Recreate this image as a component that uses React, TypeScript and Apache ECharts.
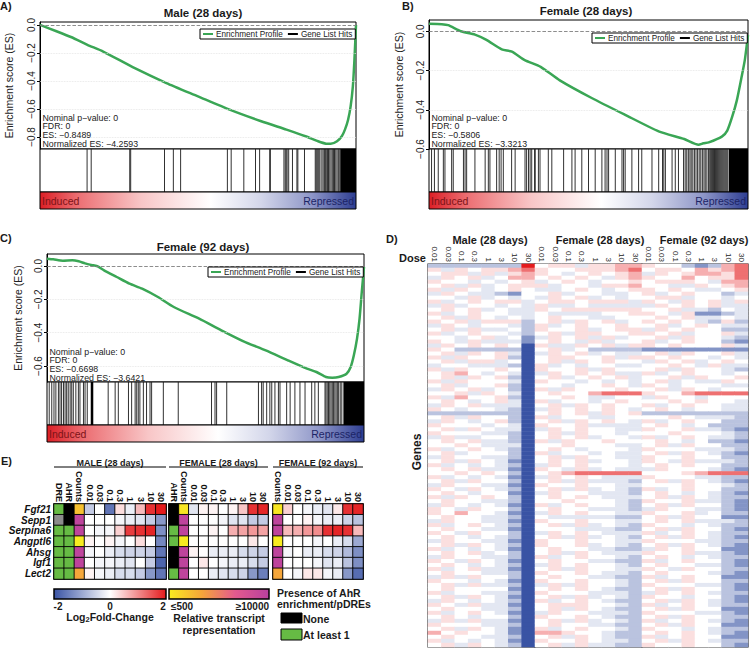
import React, { useEffect, useRef } from "react";
import * as echarts from "echarts";

const FONT = "Liberation Sans, Arial, sans-serif";
const GREEN = "#3aa655";

// ---------- GSEA data (rank fraction, enrichment score) ----------
const esMale28 = [[0,0],[0.05,-0.043],[0.1,-0.088],[0.15,-0.142],[0.2,-0.19],[0.3,-0.309],[0.4,-0.415],[0.5,-0.51],[0.6,-0.605],[0.7,-0.688],[0.78,-0.748],[0.84,-0.795],[0.88,-0.831],[0.905,-0.848],[0.92,-0.849],[0.94,-0.831],[0.955,-0.795],[0.965,-0.748],[0.975,-0.677],[0.983,-0.582],[0.99,-0.44],[0.995,-0.25],[1,0]];
const esFemale28 = [[0,0.038],[0.04,0.036],[0.06,0.031],[0.1,0],[0.144,-0.017],[0.18,-0.044],[0.228,-0.092],[0.26,-0.104],[0.3,-0.147],[0.35,-0.181],[0.41,-0.25],[0.51,-0.34],[0.615,-0.426],[0.72,-0.51],[0.8,-0.549],[0.845,-0.578],[0.86,-0.571],[0.877,-0.566],[0.918,-0.537],[0.935,-0.506],[0.95,-0.438],[0.965,-0.352],[0.98,-0.232],[0.99,-0.147],[1,-0.02]];
const esFemale92 = [[0,0.044],[0.02,0.04],[0.05,0.032],[0.08,0.034],[0.1,0.028],[0.12,0.016],[0.146,0.004],[0.16,-0.002],[0.18,-0.026],[0.22,-0.066],[0.26,-0.106],[0.3,-0.136],[0.35,-0.186],[0.4,-0.246],[0.48,-0.316],[0.55,-0.386],[0.62,-0.452],[0.69,-0.506],[0.76,-0.566],[0.82,-0.616],[0.85,-0.636],[0.88,-0.666],[0.9,-0.67],[0.92,-0.666],[0.945,-0.646],[0.958,-0.606],[0.968,-0.536],[0.978,-0.436],[0.986,-0.316],[0.993,-0.156],[1,-0.006]];

// gene list hits (rank position out of 1000) and solid runs of hits
const hitsMale28 = [149,162,284,287,394,422,445,593,605,645,682,695,727,729,772,776,779,782,787,799,813,816,837,871,874,877,880,883,886,892,896,900,903,906,910,913,917,921,925,929,932,936,940,944,947];
const hitBlocksMale28 = [[950,1000]];
const hitsFemale28 = [8,17,29,45,50,71,76,108,113,118,144,176,186,191,212,220,226,233,259,270,301,306,312,317,322,331,333,343,348,374,385,422,448,458,479,500,521,542,552,558,563,584,605,610,615,636,657,667,699,720,732,736,741,762,772,782,798,803,808,813,818,822,827,832,837,842,847,852,857,862,866,871,876,880,883,886,889,892,895,898,901,904,907,910,913,916,919,922,925,928,931,934,937];
const hitBlocksFemale28 = [[940,1000]];
const hitsFemale92 = [7,15,22,28,36,41,46,52,57,62,67,73,78,83,91,99,104,115,120,127,193,215,225,257,267,278,283,288,293,304,314,325,330,367,414,519,530,535,567,667,677,682,693,703,709,719,730,735,756,767,782,798,814,835,845,856,877,880,884,888,892,896,900,904,908,912,916,920,925,930];
const hitBlocksFemale92 = [[138,146],[935,1000]];

const statsMale28 = ["Nominal p\u2212value: 0", "FDR: 0", "ES: \u22120.8489", "Normalized ES: \u22124.2593"];
const statsFemale28 = ["Nominal p\u2212value: 0", "FDR: 0", "ES: \u22120.5806", "Normalized ES: \u22123.3213"];
const statsFemale92 = ["Nominal p\u2212value: 0", "FDR: 0", "ES: \u22120.6698", "Normalized ES: \u22123.6421"];

// ---------- Panel D heatmap (each char is a level 0..8, see heatLevels) ----------
const doses = ["0.01", "0.03", "0.1", "0.3", "1", "3", "10", "30"];
const heatGroups = ["Male (28 days)", "Female (28 days)", "Female (92 days)"];
const heatLevels = [-2, -1.25, -0.7, -0.28, 0, 0.28, 0.7, 1.25, 2];
const heatRows = [
  "22222228 45535566 54421267",
  "53545567 54455567 45546567",
  "45535356 54345456 35456657",
  "35453466 45454356 54464557",
  "54434345 34543445 45554366",
  "45353455 53443556 44335456",
  "53543454 33454345 54543345",
  "35433214 45344334 53454423",
  "44353434 35453434 45534434",
  "53454553 45545553 54354535",
  "35344343 53343333 35454533",
  "45453433 54555555 44533243",
  "53454433 43333445 54351123",
  "45354343 45443344 45453343",
  "54535552 45354534 54543252",
  "35434432 53454454 45345433",
  "45353342 54453455 35454422",
  "53454432 45355445 54534453",
  "44345341 35453534 45354432",
  "54353331 45435344 53454421",
  "35454540 53354535 54544453",
  "54222220 45342222 11111111",
  "45354530 35453433 45354453",
  "53544520 45544535 54544343",
  "45355340 45354544 35453454",
  "34433320 53434433 44543533",
  "53544540 54453544 45354432",
  "45643430 35454533 53454434",
  "45354520 45345453 44535445",
  "53544430 54434343 45343354",
  "45344520 44344543 54344433",
  "35453420 53544454 45354344",
  "44535430 45446777 54467777",
  "53644520 44543344 35443444",
  "45434530 53443454 44545443",
  "35453330 45354544 53454433",
  "54344320 35454543 45434433",
  "22222220 45453545 22222222",
  "45354420 53443344 44543332",
  "35434520 45354543 53454422",
  "54443430 54453333 45434222",
  "45354330 35454433 54453321",
  "54443320 45354434 44544432",
  "35334420 45453443 53454332",
  "45453320 53544544 45434221",
  "44543330 44544433 45354422",
  "53454320 45434443 54443332",
  "45344420 53443433 45354321",
  "35443320 45354433 54454422",
  "45354310 45453443 54353332",
  "53434320 35454443 45454422",
  "45453310 54353433 35444321",
  "44545420 45677777 44456777",
  "53434310 35454333 54443322",
  "45354420 45353332 45354321",
  "35443310 54454433 44454432",
  "54354320 45353432 53454422",
  "45434410 35443332 45434321",
  "53545420 45454333 45354322",
  "45443320 44544432 54453321",
  "35434310 53454432 45354421",
  "54354420 45443332 35443321",
  "54644310 35454433 54453422",
  "45443320 43333322 45354411",
  "35443310 54454433 45453332",
  "53454320 45353432 54434322",
  "45443310 44433322 45354421",
  "54354420 35454333 53454322",
  "45434320 45353432 45354321",
  "35443310 54454433 54443322",
  "45354320 54453432 45354321",
  "53434310 45443322 35454411",
  "45453420 45354333 54453321",
  "35443320 53454432 45434322",
  "54354310 45443322 53454421",
  "45434320 35454432 45443321",
  "53453310 45354433 54354422",
  "45443320 54454332 45444321",
  "35354420 45443322 53454411",
  "54434310 54454432 45354422",
  "45353320 35354432 54443321",
  "45444410 45454322 45354421",
  "53443320 54443332 35454322",
  "45354310 45353432 54434421",
  "35434320 53454322 45354321",
  "54353310 45554432 53454322",
  "45443320 45354322 45354411",
  "53454310 35443332 54443321",
  "45434420 54454322 45354422",
  "35353310 45353432 53454321",
  "54443320 45443322 45354411",
  "45354310 53454432 54434322",
  "64544310 66544322 45454321",
  "45443320 45354322 53454411",
  "53434310 54454332 45354322",
  "45354320 45353322 54454421",
];

// ---------- Panel E ----------
const genesE = ["Fgf21", "Sepp1", "Serpina6", "Angptl6", "Ahsg", "Igf1", "Lect2"];
const fcMale28 = [
  [-0.6, 0, -1.6, 0.3, -0.2, 0.6, 1.8, 2.0],
  [0, 0, 0, -0.1, -0.2, -0.3, -0.6, -1.2],
  [0, -0.1, -0.1, 0.4, 1.7, 1.8, 1.9, -1.3],
  [0.1, 0, 0.1, -0.1, 0, 0.3, 0, -1.4],
  [-0.1, 0, -0.2, -0.4, -0.5, -0.5, -0.6, -1.6],
  [0, -0.1, -0.1, -0.2, -0.3, 0, -0.6, -1.8],
  [0.1, -0.1, -0.2, -0.4, -0.4, -0.6, -1.2, -1.6],
];
const fcFemale28 = [
  [-0.3, 0.1, 0.1, 0, 0.1, 0.5, 1.8, 1.9],
  [0, 0, 0, -0.1, -0.3, -0.3, -0.6, -0.6],
  [0, 0, 0.1, 0, 0.7, 0.8, 0.9, 0.8],
  [0, 0, 0, 0, 0, 0, 0.2, 0],
  [0.1, 0, -0.2, -0.2, -0.2, -0.4, -0.5, -0.6],
  [0, 0.2, 0, -0.1, -0.2, -0.2, -0.4, -0.6],
  [0, 0, -0.2, -0.3, -0.4, -0.5, -1.2, -1.5],
];
const fcFemale92 = [
  [0.4, 0, -0.1, -0.2, -0.3, 0.2, 1.8, 1.9],
  [0, 0, 0.1, -0.1, -0.2, -0.2, -0.5, -0.7],
  [0.6, 0.7, 0.9, 1.0, 1.8, 1.9, 1.8, 0.6],
  [0, 0, 0, -0.1, 0, -0.2, -0.4, -1.0],
  [-0.1, 0, -0.2, -0.2, -0.4, -0.5, -0.8, -1.3],
  [0, 0, 0, -0.1, -0.3, -0.2, -0.7, -1.3],
  [0, -0.1, 0.2, 0.2, -0.1, -0.2, -1.2, -1.7],
];
const countsMale28 = [0.2, 0.95, 0.95, 0, 0.95, 0.95, 0.33];
const countsFemale28 = [0.03, 0.95, 0.95, 0, 0.95, 0.95, 0.95];
const countsFemale92 = [0.03, 0.95, 0.95, 0, 0.95, 0.95, 0.33];
// 0 = none, 1 = at least 1, 2 = not available
const dreMale28 = [1, 2, 1, 1, 1, 1, 1];
const ahrMale28 = [0, 0, 1, 1, 1, 1, 1];
const ahrFemale28 = [0, 0, 1, 1, 0, 0, 1];

const FC_COLORS = ["#3953a4", "#ffffff", "#e41a1c"];
const COUNT_COLORS = ["#f8ec20", "#f5a53a", "#e35a8e", "#b8409e"];

function txt(text: string, x: number, y: number, o: any = {}) {
  const { rotation, ...style } = o;
  return {
    type: "text", x, y, rotation: rotation || 0, silent: true, z: 20,
    style: {
      text, fill: "#1a1a1a", fontFamily: FONT, fontSize: 10,
      align: "left", verticalAlign: "middle", ...style,
    },
  };
}

function buildOption() {
  const grid: any[] = [];
  const xAxis: any[] = [];
  const yAxis: any[] = [];
  const series: any[] = [];
  const graphic: any[] = [];
  const legend: any[] = [];

  const panels = [
    { letter: "A)", lx: 0, ly: 6, title: "Male (28 days)", tx: 203, ty: 13, es: esMale28, hits: hitsMale28, blocks: hitBlocksMale28, stats: statsMale28,
      left: 40, top: 22, width: 316, esH: 127, min: -0.886, max: 0.021, ticks: [0, -0.2, -0.4, -0.6, -0.8], nameGap: 26, legL: 200, legT: 29, statsY: 114 },
    { letter: "B)", lx: 402, ly: 6, title: "Female (28 days)", tx: 586, ty: 11, es: esFemale28, hits: hitsFemale28, blocks: hitBlocksFemale28, stats: statsFemale28,
      left: 429, top: 20, width: 319, esH: 129, min: -0.6, max: 0.0575, ticks: [0, -0.2, -0.4, -0.6], nameGap: 25, legL: 592, legT: 33, statsY: 114 },
    { letter: "C)", lx: 0, ly: 238, title: "Female (92 days)", tx: 203, ty: 247, es: esFemale92, hits: hitsFemale92, blocks: hitBlocksFemale92, stats: statsFemale92,
      left: 47, top: 254, width: 317, esH: 128, min: -0.696, max: 0.072, ticks: [0, -0.2, -0.4, -0.6], nameGap: 24, legL: 208, legT: 267, statsY: 348 },
  ];
  const hitsH = 43;
  const gradH = 17;

  panels.forEach((p) => {
    const gES = grid.length;
    grid.push({ left: p.left, top: p.top, width: p.width, height: p.esH, show: true, borderColor: "#000", borderWidth: 1, backgroundColor: "#fff" });
    xAxis.push({ type: "value", gridIndex: gES, min: 0, max: 1, show: false });
    yAxis.push({
      type: "value", gridIndex: gES, min: p.min, max: p.max,
      axisLine: { show: true, lineStyle: { color: "#000", width: 1 } },
      axisTick: { show: true, length: 3, customValues: p.ticks, lineStyle: { color: "#000" } },
      axisLabel: { rotate: 90, fontSize: 10, margin: 4, color: "#222", fontFamily: FONT, customValues: p.ticks,
        formatter: (v: number) => (Math.abs(v) < 1e-9 ? "0.0" : "\u2212" + Math.abs(v).toFixed(1)) },
      splitLine: { show: false },
      name: "Enrichment score (ES)", nameLocation: "middle", nameGap: p.nameGap, nameRotate: 90,
      nameTextStyle: { fontSize: 10.5, color: "#222", fontFamily: FONT },
    });
    const gridVals = [-0.2, -0.4, -0.6, -0.8].filter((v) => v > p.min + 0.001);
    series.push({
      type: "line", name: "Enrichment Profile", xAxisIndex: gES, yAxisIndex: gES, data: p.es,
      showSymbol: false, symbol: "none", smooth: 0.2, color: GREEN,
      lineStyle: { width: 2.5, color: GREEN }, itemStyle: { color: GREEN }, z: 3,
      markLine: {
        silent: true, symbol: ["none", "none"], label: { show: false }, animation: false,
        data: [
          ...gridVals.map((v) => ({ yAxis: v, lineStyle: { type: "dotted", color: "#e2e2e2", width: 0.8 } })),
          { yAxis: 0, lineStyle: { type: "dashed", color: "#808080", width: 0.9 } },
        ],
      },
    });

    const gH = grid.length;
    grid.push({ left: p.left, top: p.top + p.esH, width: p.width, height: hitsH, show: true, borderColor: "#000", borderWidth: 1, backgroundColor: "#fff" });
    xAxis.push({ type: "value", gridIndex: gH, min: 0, max: 1000, show: false });
    yAxis.push({ type: "value", gridIndex: gH, min: 0, max: 1, show: false });
    series.push({
      type: "custom", name: "Gene List Hits", xAxisIndex: gH, yAxisIndex: gH, itemStyle: { color: "#000" },
      data: p.hits.map((h) => [h, 0.5]),
      renderItem: (_params: any, api: any) => {
        const x = api.value(0);
        const a = api.coord([x, 0]);
        const b = api.coord([x, 1]);
        return { type: "line", shape: { x1: a[0], y1: a[1], x2: b[0], y2: b[1] }, style: { stroke: "#1a1a1a", lineWidth: 0.9 } };
      },
    });
    series.push({
      type: "custom", name: "Gene List Hits", xAxisIndex: gH, yAxisIndex: gH, itemStyle: { color: "#000" },
      data: p.blocks,
      renderItem: (_params: any, api: any) => {
        const a = api.coord([api.value(0), 1]);
        const b = api.coord([api.value(1), 0]);
        return { type: "rect", shape: { x: a[0], y: a[1], width: b[0] - a[0], height: b[1] - a[1] }, style: { fill: "#000" } };
      },
    });

    const gy = p.top + p.esH + hitsH;
    graphic.push({
      type: "rect", silent: true, z: 5,
      shape: { x: p.left, y: gy, width: p.width, height: gradH },
      style: {
        stroke: "#000", lineWidth: 1,
        fill: new echarts.graphic.LinearGradient(0, 0, 1, 0, [
          { offset: 0, color: "#dc1f26" }, { offset: 0.12, color: "#ec6f73" }, { offset: 0.32, color: "#f8c6c7" },
          { offset: 0.54, color: "#ffffff" }, { offset: 0.7, color: "#d3d6ea" }, { offset: 0.86, color: "#8e96c8" },
          { offset: 1, color: "#2e3e92" },
        ]),
      },
    });
    graphic.push(txt("Induced", p.left + 2, gy + gradH / 2 + 0.5, { fill: "#7c1418", fontSize: 10.5 }));
    graphic.push(txt("Repressed", p.left + p.width - 2, gy + gradH / 2 + 0.5, { fill: "#1c2466", fontSize: 10.5, align: "right" }));
    graphic.push(txt(p.stats.join("\n"), p.left + 2.5, p.statsY - 0.5, { fontSize: 8.8, lineHeight: 8.6, verticalAlign: "top", fill: "#222" }));
    graphic.push(txt(p.title, p.tx, p.ty, { fontSize: 11.5, fontWeight: "bold", align: "center" }));
    graphic.push(txt(p.letter, p.lx, p.ly, { fontSize: 11, fontWeight: "bold" }));

    legend.push({
      left: p.legL, top: p.legT, orient: "horizontal", data: ["Enrichment Profile", "Gene List Hits"],
      icon: "rect", itemWidth: 10, itemHeight: 2, itemGap: 5, padding: [1, 3, 1, 3],
      borderColor: "#000", borderWidth: 1, borderRadius: 0, backgroundColor: "#fff", selectedMode: false, z: 10,
      textStyle: { fontSize: 8.2, color: "#222", fontFamily: FONT, padding: [0, 0, 0, -2] },
    });
  });

  // ---------- Panel D ----------
  const dSeries: number[] = [];
  const dLefts = [428, 535, 642];
  const dWidths = [107, 107, 106];
  const dTop = 264;
  const dHeight = 383;
  const rowIdx = heatRows.map((_, i) => String(i));
  const rows = heatRows.map((r) => r.replace(/ /g, ""));
  heatGroups.forEach((name, b) => {
    const g = grid.length;
    grid.push({ left: dLefts[b], top: dTop, width: dWidths[b], height: dHeight, show: true, borderColor: "#111", borderWidth: 1.2, backgroundColor: "#fff" });
    xAxis.push({ type: "category", gridIndex: g, data: doses, position: "top", axisLine: { show: false }, axisTick: { show: false },
      axisLabel: { interval: 0, rotate: 90, fontSize: 8, margin: 2, color: "#222", fontFamily: FONT } });
    yAxis.push({ type: "category", gridIndex: g, data: rowIdx, inverse: true, show: false });
    const data: any[] = [];
    rows.forEach((r, ri) => {
      for (let c = 0; c < 8; c++) {
        data.push([c, ri, heatLevels[Number(r[b * 8 + c])]]);
      }
    });
    dSeries.push(series.length);
    series.push({ type: "heatmap", name: name, xAxisIndex: g, yAxisIndex: g, data, progressive: 0, itemStyle: { borderWidth: 0 } });
    graphic.push(txt(name, [490, 600, 704][b], 240, { fontSize: 11, fontWeight: "bold", align: "center" }));
  });
  graphic.push(txt("D)", 386, 239, { fontSize: 11, fontWeight: "bold" }));
  graphic.push(txt("Dose", 426, 258, { fontSize: 11, fontWeight: "bold", align: "right" }));
  graphic.push(txt("Genes", 417, 452, { fontSize: 12, fontWeight: "bold", align: "center", rotation: Math.PI / 2 }));

  // ---------- Panel E ----------
  const eTop = 504;
  const eH = 75;
  const eBlocks = [
    { label: "MALE (28 days)", left: 54, width: 112, ann: [["DRE", dreMale28], ["AHR", ahrMale28]], counts: countsMale28, fc: fcMale28 },
    { label: "FEMALE (28 days)", left: 169, width: 99, ann: [["AHR", ahrFemale28]], counts: countsFemale28, fc: fcFemale28 },
    { label: "FEMALE (92 days)", left: 273, width: 90, ann: [], counts: countsFemale92, fc: fcFemale92 },
  ];
  const fcSeries: number[] = [];
  const cntSeries: number[] = [];
  const annSeries: number[] = [];
  const cellStyle = { borderColor: "#000", borderWidth: 0.9 };
  eBlocks.forEach((blk: any, bi) => {
    const g = grid.length;
    const cols = [...blk.ann.map((a: any) => a[0]), "Counts", ...doses];
    grid.push({ left: blk.left, top: eTop, width: blk.width, height: eH, show: true, borderColor: "#000", borderWidth: 1.6 });
    xAxis.push({ type: "category", gridIndex: g, data: cols, position: "top", axisLine: { show: false }, axisTick: { show: false },
      axisLabel: { interval: 0, rotate: 90, fontSize: 9, fontWeight: "bold", margin: 2, color: "#111", fontFamily: FONT } });
    yAxis.push({ type: "category", gridIndex: g, data: genesE, inverse: true, show: bi === 0,
      axisLine: { show: false }, axisTick: { show: false },
      axisLabel: { interval: 0, fontSize: 10, fontWeight: "bold", fontStyle: "italic", margin: 3, color: "#111", fontFamily: FONT } });
    const nA = blk.ann.length;
    if (nA > 0) {
      const data: any[] = [];
      blk.ann.forEach((a: any, ai: number) => a[1].forEach((v: number, gi: number) => data.push([ai, gi, v])));
      annSeries.push(series.length);
      series.push({ type: "heatmap", name: "AhR " + bi, xAxisIndex: g, yAxisIndex: g, data, progressive: 0, itemStyle: cellStyle });
    }
    cntSeries.push(series.length);
    series.push({ type: "heatmap", name: "Counts " + bi, xAxisIndex: g, yAxisIndex: g, progressive: 0, itemStyle: cellStyle,
      data: blk.counts.map((v: number, gi: number) => [nA, gi, v]) });
    const fd: any[] = [];
    blk.fc.forEach((row: number[], gi: number) => row.forEach((v, di) => fd.push([nA + 1 + di, gi, v])));
    fcSeries.push(series.length);
    series.push({ type: "heatmap", name: "FC " + bi, xAxisIndex: g, yAxisIndex: g, data: fd, progressive: 0, itemStyle: cellStyle });

    graphic.push(txt(blk.label, blk.left + blk.width / 2, 462.5, { fontSize: 9, fontWeight: "bold", align: "center" }));
    graphic.push({ type: "line", silent: true, z: 20, shape: { x1: blk.left, y1: 467, x2: blk.left + blk.width, y2: 467 }, style: { stroke: "#000", lineWidth: 1 } });
  });
  graphic.push(txt("E)", 1, 461, { fontSize: 11, fontWeight: "bold" }));

  // colour bars and key
  graphic.push({ type: "rect", silent: true, z: 20, shape: { x: 54, y: 589, width: 112, height: 10 },
    style: { stroke: "#000", lineWidth: 1.5, fill: new echarts.graphic.LinearGradient(0, 0, 1, 0, [
      { offset: 0, color: FC_COLORS[0] }, { offset: 0.5, color: FC_COLORS[1] }, { offset: 1, color: FC_COLORS[2] }]) } });
  graphic.push({ type: "rect", silent: true, z: 20, shape: { x: 169, y: 589, width: 100, height: 10 },
    style: { stroke: "#000", lineWidth: 1.5, fill: new echarts.graphic.LinearGradient(0, 0, 1, 0, [
      { offset: 0, color: COUNT_COLORS[0] }, { offset: 0.33, color: COUNT_COLORS[1] }, { offset: 0.66, color: COUNT_COLORS[2] }, { offset: 1, color: COUNT_COLORS[3] }]) } });
  const bold = { fontSize: 10, fontWeight: "bold" };
  graphic.push(txt("-2", 58, 606, { ...bold, align: "center" }));
  graphic.push(txt("0", 110, 606, { ...bold, align: "center" }));
  graphic.push(txt("2", 163, 606, { ...bold, align: "center" }));
  graphic.push({ type: "text", x: 110, y: 617, silent: true, z: 20, style: {
    text: "{a|Log}{b|2}{a|Fold-Change}", align: "center", verticalAlign: "middle",
    rich: { a: { fontSize: 10.5, fontWeight: "bold", fontFamily: FONT, fill: "#1a1a1a" },
      b: { fontSize: 7.5, fontWeight: "bold", fontFamily: FONT, fill: "#1a1a1a", padding: [5, 0, 0, 0] } } } });
  graphic.push(txt("\u2264500", 171, 606, { ...bold }));
  graphic.push(txt("\u226510000", 269, 606, { ...bold, align: "right" }));
  graphic.push(txt("Relative transcript", 219, 618, { ...bold, fontSize: 10.5, align: "center" }));
  graphic.push(txt("representation", 219, 629.5, { ...bold, fontSize: 10.5, align: "center" }));
  graphic.push(txt("Presence of AhR", 277, 593, { ...bold, fontSize: 10.5 }));
  graphic.push(txt("enrichment/pDREs", 277, 604, { ...bold, fontSize: 10.5 }));
  graphic.push({ type: "rect", silent: true, z: 20, shape: { x: 281, y: 613, width: 21, height: 10 }, style: { fill: "#000", stroke: "#000", lineWidth: 1 } });
  graphic.push(txt("None", 303, 618.5, { ...bold, fontSize: 10.5 }));
  graphic.push({ type: "rect", silent: true, z: 20, shape: { x: 281, y: 629, width: 21, height: 11 }, style: { fill: "#66bb44", stroke: "#000", lineWidth: 1 } });
  graphic.push(txt("At least 1", 303, 635, { ...bold, fontSize: 10.5 }));

  const visualMap = [
    { type: "continuous", show: false, min: -2, max: 2, dimension: 2, seriesIndex: dSeries, inRange: { color: FC_COLORS } },
    { type: "continuous", show: false, min: -2, max: 2, dimension: 2, seriesIndex: fcSeries, inRange: { color: FC_COLORS } },
    { type: "continuous", show: false, min: 0, max: 1, dimension: 2, seriesIndex: cntSeries, inRange: { color: COUNT_COLORS } },
    { type: "piecewise", show: false, dimension: 2, seriesIndex: annSeries,
      pieces: [{ value: 0, color: "#000000" }, { value: 1, color: "#66bb44" }, { value: 2, color: "#8c8c8c" }] },
  ];

  return {
    animation: false,
    backgroundColor: "#fff",
    textStyle: { fontFamily: FONT },
    grid, xAxis, yAxis, series, legend, visualMap, graphic,
  };
}

export default function App() {
  const ref = useRef<HTMLDivElement>(null);
  useEffect(() => {
    document.body.style.margin = "0";
    const chart = echarts.init(ref.current as HTMLDivElement, null, { renderer: "svg" });
    chart.setOption(buildOption() as any);
    return () => chart.dispose();
  }, []);
  return <div ref={ref} style={{ width: 750, height: 650 }} />;
}
